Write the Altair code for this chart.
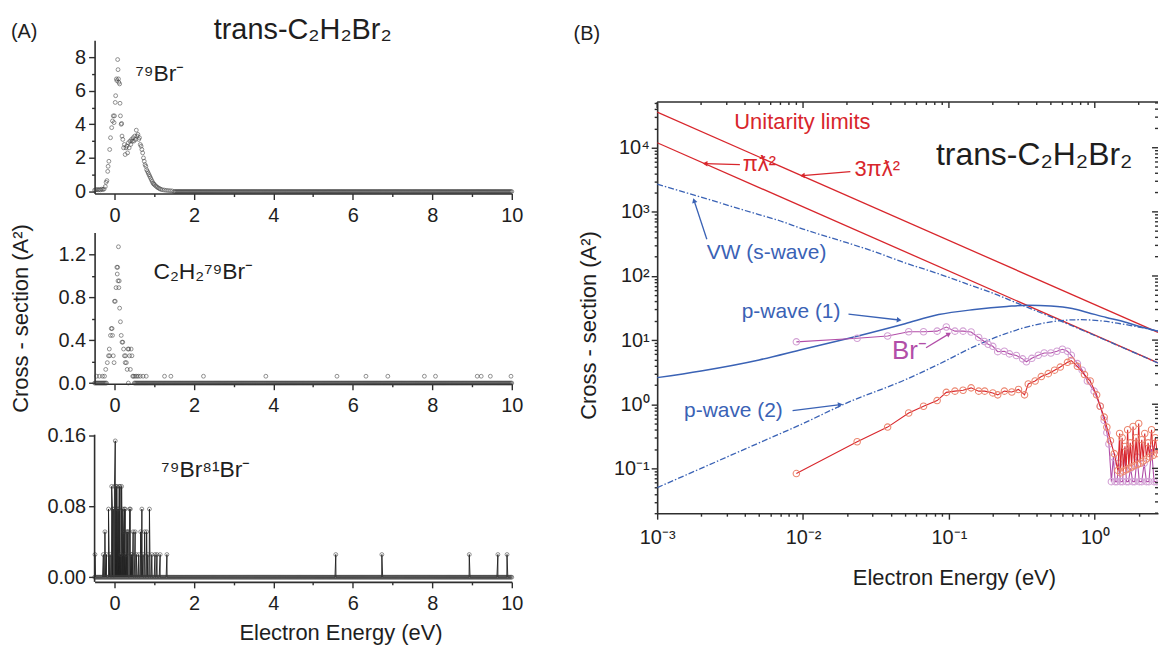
import json
import math
import altair as alt
import numpy as np
import pandas as pd

FONT = "Liberation Sans"
INK = "#1e1e1e"
AXC = "#2e2e2e"

# ======================= DATA =======================
# ---- Panel (A): ion yields, linear energy scale (E in eV, sigma in A^2)
br79_pts = [
    (-0.50, 0.08), (-0.47, 0.10), (-0.44, 0.12), (-0.41, 0.10), (-0.38, 0.12),
    (-0.35, 0.10), (-0.32, 0.14), (-0.29, 0.12), (-0.26, 0.15), (-0.23, 0.30),
    (-0.21, 0.55), (-0.19, 0.65), (-0.17, 1.20), (-0.16, 1.50), (-0.14, 1.80),
    (-0.12, 2.50), (-0.10, 3.20), (-0.07, 3.80), (-0.05, 4.20), (-0.03, 4.50),
    (-0.01, 4.10), (0.00, 4.50), (0.02, 5.30), (0.03, 5.70), (0.05, 6.70),
    (0.06, 6.60), (0.08, 7.85), (0.09, 7.25), (0.10, 6.70), (0.11, 6.50),
    (0.13, 6.40), (0.14, 5.25), (0.15, 4.50), (0.17, 4.00), (0.18, 4.05),
    (0.19, 3.30), (0.21, 3.10), (0.23, 2.60), (0.25, 2.80), (0.27, 2.20),
    (0.29, 2.60), (0.31, 2.70), (0.33, 2.30), (0.35, 2.90), (0.37, 2.60),
    (0.39, 3.00), (0.41, 2.80), (0.43, 3.10), (0.45, 3.00), (0.47, 3.20),
    (0.49, 3.00), (0.51, 3.30), (0.53, 3.10), (0.55, 3.65), (0.57, 3.30),
    (0.59, 3.40), (0.61, 3.10), (0.63, 3.20), (0.65, 2.80), (0.67, 2.70),
    (0.69, 2.50), (0.71, 2.30), (0.73, 2.00), (0.75, 1.80), (0.77, 1.60),
    (0.79, 1.50), (0.81, 1.30), (0.83, 1.20), (0.85, 1.10), (0.87, 1.00),
    (0.89, 0.90), (0.91, 0.80), (0.93, 0.70), (0.95, 0.60), (0.97, 0.50),
    (0.99, 0.45), (1.01, 0.40), (1.04, 0.33), (1.07, 0.27), (1.10, 0.22),
    (1.13, 0.18), (1.16, 0.14), (1.20, 0.11), (1.25, 0.09), (1.30, 0.07),
    (1.35, 0.06), (1.40, 0.05), (1.45, 0.04),
]
c2h2br_pts = [
    (-0.45, 0.0635), (-0.38, 0.0635), (-0.30, 0.0635), (-0.25, 0.0635), (-0.22, 0.127),
    (-0.18, 0.19), (-0.15, 0.254), (-0.13, 0.317), (-0.12, 0.254), (-0.10, 0.444),
    (-0.08, 0.508), (-0.06, 0.508), (-0.05, 0.444), (-0.03, 0.254), (-0.01, 0.19),
    (0.00, 0.762), (0.02, 0.762), (0.04, 0.889), (0.06, 1.079), (0.07, 1.016),
    (0.08, 1.079), (0.09, 0.952), (0.10, 1.27), (0.11, 0.889), (0.12, 0.952),
    (0.13, 0.698), (0.15, 0.571), (0.17, 0.444), (0.19, 0.381), (0.21, 0.381),
    (0.23, 0.317), (0.25, 0.254), (0.27, 0.19), (0.28, 0.254), (0.30, 0.19),
    (0.32, 0.127), (0.34, 0.317), (0.35, 0.0), (0.36, 0.317), (0.38, 0.254),
    (0.40, 0.127), (0.42, 0.317), (0.44, 0.254), (0.46, 0.0635), (0.48, 0.0635),
    (0.52, 0.0635), (0.56, 0.0635), (0.60, 0.0635), (0.65, 0.0635), (0.72, 0.0635),
    (0.80, 0.0635), (1.26, 0.0635), (1.42, 0.0635), (2.24, 0.0635), (3.81, 0.0635),
    (5.60, 0.0635), (6.33, 0.0635), (6.88, 0.0635), (7.80, 0.0635), (8.08, 0.0635),
    (9.13, 0.0635), (9.23, 0.0635), (9.46, 0.0635), (9.98, 0.0635),
]
br2_pts = [
    (-0.49, 0.0256), (-0.28, 0.0256), (-0.24, 0.0513), (-0.20, 0.0256), (-0.15, 0.077),
    (-0.11, 0.0256), (-0.07, 0.1026), (-0.05, 0.077), (-0.03, 0.077), (0.00, 0.1026),
    (0.02, 0.154), (0.04, 0.1026), (0.06, 0.1026), (0.08, 0.077), (0.10, 0.077),
    (0.12, 0.1026), (0.14, 0.1026), (0.16, 0.0256), (0.18, 0.1026), (0.21, 0.077),
    (0.23, 0.0513), (0.25, 0.077), (0.27, 0.077), (0.29, 0.0256), (0.31, 0.0513),
    (0.33, 0.0513), (0.35, 0.0513), (0.38, 0.077), (0.40, 0.077), (0.42, 0.0256),
    (0.44, 0.0256), (0.47, 0.0513), (0.52, 0.0513), (0.55, 0.0256), (0.61, 0.0256),
    (0.66, 0.0513), (0.69, 0.077), (0.72, 0.0256), (0.76, 0.0513), (0.81, 0.0513),
    (0.84, 0.0256), (0.88, 0.077), (0.94, 0.0256), (1.02, 0.0256), (1.07, 0.0256),
    (1.15, 0.0256), (1.32, 0.0256), (5.57, 0.0256), (6.73, 0.0256), (8.93, 0.0256),
    (9.65, 0.0256), (9.88, 0.0256),
]
# energy grid of the measurement (eV); the background channel reads 0 there
A_GRID = np.round(np.arange(-0.5, 10.0001, 0.025), 3)

A_XTICKS = list(range(0, 11))
A1_YTICKS = [0, 1, 2, 3, 4, 5, 6, 7, 8]
A1_YMAJOR = [0, 2, 4, 6, 8]
A2_YTICKS = [0.0, 0.2, 0.4, 0.6, 0.8, 1.0, 1.2]
A2_YMAJOR = [0.0, 0.4, 0.8, 1.2]
A3_YTICKS = [0.0, 0.02, 0.04, 0.06, 0.08, 0.10, 0.12, 0.14, 0.16]
A3_YMAJOR = [0.0, 0.04, 0.08, 0.12, 0.16]

# ---- Panel (B): log-log
unit_E = [0.001, 2.713]
pi_lam2 = [11970, 4.41]
three_pi_lam2 = [35900, 13.2]
vw_pts = [(0.001, 2700), (0.002, 1700), (0.004, 1050), (0.007, 720), (0.01, 540),
          (0.02, 330), (0.03, 245), (0.05, 160), (0.07, 125), (0.1, 95), (0.15, 68),
          (0.2, 54), (0.3, 37), (0.5, 23), (1.0, 11.8), (2.713, 4.4)]
p1_pts = [(0.001, 2.6), (0.002, 3.3), (0.005, 4.9), (0.01, 7.2), (0.02, 10.5),
          (0.05, 18), (0.085, 25), (0.15, 30), (0.25, 33.5), (0.35, 35), (0.5, 34),
          (0.7, 31), (0.89, 27), (1.2, 22.5), (1.5, 20), (2.0, 16.5), (2.713, 13.8)]
p2_pts = [(0.001, 0.05), (0.002, 0.1), (0.005, 0.25), (0.01, 0.5), (0.02, 1.05),
          (0.05, 2.4), (0.085, 4.2), (0.15, 8), (0.24, 12.4), (0.4, 17.5), (0.62, 20.4),
          (0.8, 20.8), (1.1, 20), (1.5, 18), (2.0, 16), (2.713, 13.8)]
brm_pts = [(0.009, 9.4), (0.0235, 10.7), (0.038, 11.6), (0.053, 13.5), (0.067, 13.5),
           (0.083, 13.8), (0.096, 16.0), (0.11, 13.8), (0.125, 13.8), (0.142, 13.4),
           (0.16, 11.0), (0.175, 9.5), (0.186, 8.6), (0.2, 8.0), (0.216, 6.6),
           (0.24, 6.7), (0.26, 6.1), (0.29, 5.75), (0.32, 5.1), (0.34, 4.6),
           (0.37, 5.2), (0.41, 5.8), (0.45, 6.3), (0.5, 6.3), (0.55, 6.7), (0.6, 7.2),
           (0.65, 6.7), (0.69, 5.8), (0.76, 4.3), (0.82, 3.4), (0.89, 2.3), (0.99, 1.6),
           (1.09, 0.93), (1.16, 0.56), (1.21, 0.36), (1.25, 0.24), (1.30, 0.062),
           (1.34, 0.15), (1.38, 0.062), (1.42, 0.062), (1.46, 0.12), (1.50, 0.062),
           (1.55, 0.062), (1.60, 0.18), (1.65, 0.062), (1.70, 0.062), (1.76, 0.10),
           (1.82, 0.062), (1.88, 0.062), (1.95, 0.15), (2.02, 0.062), (2.10, 0.062),
           (2.18, 0.12), (2.26, 0.062), (2.35, 0.062), (2.45, 0.20), (2.55, 0.062),
           (2.65, 0.062)]
red_pts = [(0.009, 0.083), (0.0235, 0.26), (0.038, 0.44), (0.053, 0.73), (0.067, 0.93),
           (0.083, 1.14), (0.096, 1.53), (0.11, 1.6), (0.125, 1.65), (0.142, 1.8),
           (0.16, 1.6), (0.176, 1.6), (0.2, 1.5), (0.216, 1.4), (0.24, 1.6), (0.27, 1.55),
           (0.3, 1.7), (0.33, 1.4), (0.35, 2.07), (0.39, 2.3), (0.43, 2.7), (0.48, 3.0),
           (0.53, 3.4), (0.58, 3.8), (0.65, 4.5), (0.69, 4.8), (0.76, 3.9), (0.85, 2.9),
           (0.93, 2.3), (1.03, 1.4), (1.09, 0.93), (1.16, 0.63), (1.21, 0.44),
           (1.28, 0.27), (1.36, 0.17), (1.44, 0.093), (1.48, 0.35), (1.50, 0.085),
           (1.54, 0.3), (1.57, 0.09), (1.61, 0.22), (1.64, 0.095), (1.68, 0.4),
           (1.71, 0.1), (1.75, 0.25), (1.79, 0.105), (1.83, 0.45), (1.87, 0.11),
           (1.92, 0.3), (1.96, 0.115), (2.0, 0.5), (2.05, 0.12), (2.1, 0.28),
           (2.15, 0.13), (2.2, 0.35), (2.26, 0.14), (2.32, 0.25), (2.38, 0.15),
           (2.45, 0.4), (2.52, 0.16), (2.6, 0.3), (2.68, 0.17)]

B_XMAJOR = [0.001, 0.01, 0.1, 1.0]
B_XTICKS = [round(m * d, 6) for d in B_XMAJOR for m in range(1, 10) if m * d <= 2.7]
B_YMAJOR = [0.1, 1.0, 10.0, 100.0, 1000.0, 10000.0]
B_YTICKS = [round(m * d, 6) for d in [0.01] + B_YMAJOR for m in range(1, 10)
            if 0.02 <= m * d <= 50000]

# ======================= LAYOUT =======================
A_LEFT, A_TOP, A_W = 94, 38, 419
A1_H, A2_H, A3_H, A_SP = 154, 152, 160, 39
B_LEFT, B_TOP, B_W, B_H = 657, 100, 503, 413
B_XMIN, B_XMAX = 0.001, 2.713
B_YMIN, B_YMAX = 0.02, 51760
HSP = 30
A_RIGHT_EDGE = 530
SPACER_H = 2

A1_YDOM = [-0.12, 9.0]
A2_YDOM = [-0.0065, 1.404]
A3_YDOM = [-0.0053, 0.1747]
A3_AXTOP = 0.161

PT_A = dict(shape="circle", filled=False, size=15, strokeWidth=0.8, color="#3a3a3a")


def df_pts(pts):
    return pd.DataFrame(pts, columns=["E", "S"])


def in_list(lst):
    return "(" + " || ".join(f"abs(datum.value - {json.dumps(v)}) < {abs(v) * 1e-6 + 1e-12}"
                             for v in lst) + ")"


def a_x(show_title):
    kw = dict(values=A_XTICKS, labelExpr="datum.value % 2 == 0 ? datum.label : ''",
              tickSize={"condition": {"test": "datum.value % 2 == 0", "value": 6}, "value": 3},
              labelPadding=6)
    if show_title:
        kw.update(title="Electron Energy (eV)", titleX=247, titleY=51,
                  titleAlign="center", titleBaseline="middle")
    else:
        kw.update(title=None)
    return alt.X("E:Q", scale=alt.Scale(domain=[-0.5, 10], nice=False, zero=False),
                 axis=alt.Axis(**kw))


def a_y(dom, ticks, majors, fmt=None, ytitle=False, domain_line=True):
    t = in_list(majors)
    kw = dict(values=ticks, labelExpr=f"{t} ? datum.label : ''",
              tickSize={"condition": {"test": t, "value": 6}, "value": 3},
              labelPadding=3, domain=domain_line)
    if fmt:
        kw["format"] = fmt
    if ytitle:
        kw.update(title="Cross - section (A²)", titleX=-74, titleY=86,
                  titleAlign="center", titleBaseline="middle")
    else:
        kw.update(title=None)
    return alt.Y("S:Q", scale=alt.Scale(domain=dom, nice=False, zero=False), axis=alt.Axis(**kw))


def a_label(txt, E, S, X, Y, size=23):
    d = pd.DataFrame({"E": [E], "S": [S], "t": [txt]})
    return alt.Chart(d).mark_text(align="left", baseline="middle", fontSize=size,
                                  color=INK, font=FONT).encode(x=X, y=Y, text="t:N")


def px_text(txt, x, y, size, align="left", baseline="middle", color=INK):
    d = pd.DataFrame({"t": [txt]})
    return alt.Chart(d).mark_text(align=align, baseline=baseline, fontSize=size,
                                  color=color, font=FONT).encode(
        x=alt.value(x), y=alt.value(y), text="t:N")


# ---------- A1 : 79Br-
X1, Y1 = a_x(False), a_y(A1_YDOM, A1_YTICKS, A1_YMAJOR)
d1 = pd.concat([df_pts(br79_pts),
                pd.DataFrame({"E": A_GRID[A_GRID >= 1.5], "S": 0.0})])
A1 = alt.layer(
    alt.Chart(d1).mark_point(**PT_A).encode(x=X1, y=Y1),
    a_label("⁷⁹Br⁻", 0.53, 7.0, X1, Y1),
    px_text("trans-C₂H₂Br₂", 209, -1, 29, align="center", baseline="alphabetic"),
    px_text("(A)", -84, -8, 20),
    px_text(".", -A_LEFT, -A_TOP, 4, baseline="top", color="white"),
    px_text(".", A_RIGHT_EDGE - A_LEFT, 60, 4, align="right", color="white"),
).properties(width=A_W, height=A1_H)

# ---------- A2 : C2H2 79Br-
X2, Y2 = a_x(False), a_y(A2_YDOM, A2_YTICKS, A2_YMAJOR, ".1f", ytitle=True)
zmask = (A_GRID <= -0.2) | (A_GRID >= 0.5)
d2 = pd.concat([df_pts(c2h2br_pts), pd.DataFrame({"E": A_GRID[zmask], "S": 0.0})])
A2 = alt.layer(
    alt.Chart(d2).mark_point(**PT_A).encode(x=X2, y=Y2),
    a_label("C₂H₂⁷⁹Br⁻", 0.98, 1.03, X2, Y2),
).properties(width=A_W, height=A2_H)

# ---------- A3 : 79Br81Br-
X3, Y3 = a_x(True), a_y(A3_YDOM, A3_YTICKS, A3_YMAJOR, ".2f", domain_line=False)
d3 = pd.concat([df_pts(br2_pts), pd.DataFrame({"E": A_GRID, "S": 0.0})]).sort_values("E")
A3 = alt.layer(
    alt.Chart(d3).mark_line(color="#1e1e1e", strokeWidth=0.9).encode(x=X3, y=Y3),
    alt.Chart(d3).mark_point(**PT_A).encode(x=X3, y=Y3),
    alt.Chart(pd.DataFrame({"a": [0]})).mark_rule(color=AXC, strokeWidth=1.6).encode(
        x=alt.value(0), y=alt.datum(A3_YDOM[0]), y2=alt.datum(A3_AXTOP)),
    a_label("⁷⁹Br⁸¹Br⁻", 1.18, 0.121, X3, Y3),
).properties(width=A_W, height=A3_H)

A = alt.vconcat(A1, A2, A3, spacing=A_SP, bounds="flush")

# ---------- B
bx_scale = alt.Scale(type="log", domain=[B_XMIN, B_XMAX], nice=False)
by_scale = alt.Scale(type="log", domain=[B_YMIN, B_YMAX], nice=False)
tx = in_list(B_XMAJOR)
ty = in_list(B_YMAJOR)
bx_axis = alt.Axis(
    values=B_XTICKS,
    labelExpr=f"{tx} ? ['10⁻³','10⁻²','10⁻¹','10⁰'][round(log(datum.value)/LN10)+3] : ''",
    tickSize={"condition": {"test": tx, "value": 6}, "value": 3},
    labelPadding=8, title="Electron Energy (eV)", titleX=298, titleY=65,
    titleAlign="center", titleBaseline="middle")
by_axis = alt.Axis(
    values=B_YTICKS,
    labelExpr=f"{ty} ? ['10⁻¹','10⁰','10¹','10²','10³','10⁴'][round(log(datum.value)/LN10)+1] : ''",
    tickSize={"condition": {"test": ty, "value": 6}, "value": 3},
    labelPadding=2, title="Cross - section (A²)", titleX=-69, titleY=224,
    titleAlign="center", titleBaseline="middle")


def BX(f="E"):
    return alt.X(f"{f}:Q", scale=bx_scale, axis=bx_axis)


def BY(f="S"):
    return alt.Y(f"{f}:Q", scale=by_scale, axis=by_axis)


def b_px(E, S):
    lx0, lx1 = math.log10(B_XMIN), math.log10(B_XMAX)
    ly0, ly1 = math.log10(B_YMIN), math.log10(B_YMAX)
    return (B_W * (math.log10(E) - lx0) / (lx1 - lx0),
            B_H * (ly1 - math.log10(S)) / (ly1 - ly0))


RED = "#d8262c"
BLUE = "#3a62b5"
MAG = "#b24ea8"
PINK = "#d2a0d4"
SALMON = "#ec8770"

b_layers = []
for vals in (pi_lam2, three_pi_lam2):
    b_layers.append(alt.Chart(pd.DataFrame({"E": unit_E, "S": vals})).mark_line(
        color=RED, strokeWidth=1.3, clip=True).encode(x=BX(), y=BY()))
b_layers.append(alt.Chart(df_pts(vw_pts)).mark_line(
    color=BLUE, strokeWidth=1.3, strokeDash=[6, 2, 1.5, 2], clip=True, interpolate="monotone"
).encode(x=BX(), y=BY()))
b_layers.append(alt.Chart(df_pts(p1_pts)).mark_line(
    color=BLUE, strokeWidth=1.5, clip=True, interpolate="monotone").encode(x=BX(), y=BY()))
b_layers.append(alt.Chart(df_pts(p2_pts)).mark_line(
    color=BLUE, strokeWidth=1.3, strokeDash=[6, 2, 1.5, 2], clip=True, interpolate="monotone"
).encode(x=BX(), y=BY()))
for pts, lc, pc in ((brm_pts, MAG, PINK), (red_pts, RED, SALMON)):
    d = df_pts(pts)
    b_layers.append(alt.Chart(d).mark_line(color=lc, strokeWidth=1.1, clip=True).encode(
        x=BX(), y=BY()))
    b_layers.append(alt.Chart(d).mark_point(shape="circle", filled=False, size=42,
                                            strokeWidth=1.1, color=pc, opacity=1,
                                            clip=True).encode(x=BX(), y=BY()))


def b_text(txt, E, S, size, color, align="left"):
    d = pd.DataFrame({"E": [E], "S": [S], "t": [txt]})
    return alt.Chart(d).mark_text(align=align, baseline="middle", fontSize=size,
                                  color=color, font=FONT).encode(x=BX(), y=BY(), text="t:N")


def b_arrow(E1, S1, E2, S2, color):
    x1, y1 = b_px(E1, S1)
    x2, y2 = b_px(E2, S2)
    ang = math.degrees(math.atan2(x2 - x1, -(y2 - y1))) % 360
    d = pd.DataFrame({"E1": [E1], "S1": [S1], "E2": [E2], "S2": [S2], "ang": [ang]})
    return [
        alt.Chart(d).mark_rule(color=color, strokeWidth=1.3).encode(
            x=BX("E1"), y=BY("S1"), x2="E2", y2="S2"),
        alt.Chart(d).mark_point(shape="triangle-up", filled=True, size=30, color=color,
                                opacity=1).encode(
            x=BX("E2"), y=BY("S2"), angle=alt.Angle("ang:Q", scale=None)),
    ]


b_layers += [
    b_text("Unitarity limits", 0.0099, 25400, 22, RED, align="center"),
    b_text("πƛ²", 0.00386, 5500, 22, RED),
    b_text("3πƛ²", 0.0225, 4720, 22, RED),
    b_text("trans-C₂H₂Br₂", 0.0815, 7790, 32, INK),
    b_text("VW (s-wave)", 0.00219, 226, 21, BLUE),
    b_text("p-wave (1)", 0.0038, 27.4, 21, BLUE),
    b_text("Br⁻", 0.0408, 6.8, 26, MAG),
    b_text("p-wave (2)", 0.00153, 0.796, 21, BLUE),
]
b_layers += b_arrow(0.00369, 5450, 0.00213, 5650, RED)
b_layers += b_arrow(0.0211, 4236, 0.0099, 3670, RED)
b_layers += b_arrow(0.00219, 373, 0.00179, 1503, BLUE)
b_layers += b_arrow(0.0205, 25.5, 0.0456, 20.6, BLUE)
b_layers += b_arrow(0.0697, 7.6, 0.1, 12.5, MAG)
b_layers += b_arrow(0.00848, 0.796, 0.018, 0.986, BLUE)

tx_df = pd.DataFrame({"E": B_XTICKS})
ty_df = pd.DataFrame({"S": B_YTICKS})
b_layers += [
    alt.Chart(pd.DataFrame({"a": [0]})).mark_rule(color=AXC, strokeWidth=1.6).encode(
        x=alt.value(0), x2=alt.value(B_W), y=alt.value(0)),
    alt.Chart(tx_df[tx_df.E.isin(B_XMAJOR)]).mark_rule(color=AXC, strokeWidth=1.4).encode(
        x=BX(), y=alt.value(0), y2=alt.value(6)),
    alt.Chart(tx_df[~tx_df.E.isin(B_XMAJOR)]).mark_rule(color=AXC, strokeWidth=1.4).encode(
        x=BX(), y=alt.value(0), y2=alt.value(3)),
    alt.Chart(ty_df[ty_df.S.isin(B_YMAJOR)]).mark_rule(color=AXC, strokeWidth=1.4).encode(
        y=BY(), x=alt.value(B_W), x2=alt.value(B_W - 6)),
    alt.Chart(ty_df[~ty_df.S.isin(B_YMAJOR)]).mark_rule(color=AXC, strokeWidth=1.4).encode(
        y=BY(), x=alt.value(B_W), x2=alt.value(B_W - 3)),
]
B = alt.layer(*b_layers).properties(width=B_W, height=B_H)

# spacer on top of panel B: carries "(B)" and the box anchor; its origin is level with A1's top
spacer = alt.layer(
    px_text("(B)", B_LEFT - 84 - B_LEFT, 32 - A_TOP, 20),
    px_text(".", A_RIGHT_EDGE + HSP - B_LEFT, -A_TOP, 4, baseline="top", color="white"),
).properties(width=B_W, height=SPACER_H)
Bcol = alt.vconcat(spacer, B, spacing=B_TOP - A_TOP - SPACER_H, bounds="flush")

chart = alt.hconcat(A, Bcol, spacing=HSP).properties(padding=0).configure(
    font=FONT
).configure_view(stroke="transparent").configure_axis(
    labelFont=FONT, titleFont=FONT, labelFontSize=20, titleFontSize=22,
    titleFontWeight="normal", labelColor=INK, titleColor=INK, domainColor=AXC,
    tickColor=AXC, domainWidth=1.6, tickWidth=1.4, grid=False, labelFlush=False,
    labelOverlap=False,
)

chart.save("out.html", embed_options={"renderer": "svg", "actions": False})
